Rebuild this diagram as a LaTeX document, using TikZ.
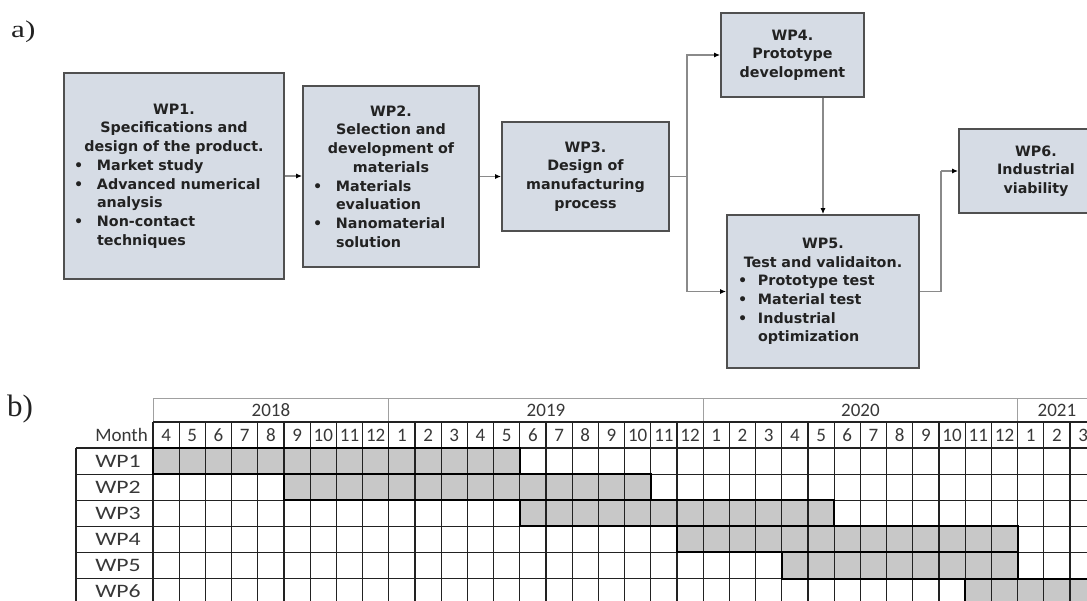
\documentclass[tikz,border=0pt]{standalone}
\usepackage{fontspec}
\newfontfamily\boxfont{DejaVu Sans}
\newfontfamily\tabfont{Carlito}
\newfontfamily\labfont{Liberation Serif}
\usetikzlibrary{arrows.meta,calc}
\definecolor{boxfill}{HTML}{D6DCE5}
\definecolor{boxline}{HTML}{505050}
\definecolor{connline}{HTML}{8A8A8A}
\definecolor{barfill}{HTML}{C8C8C8}
\definecolor{gridline}{HTML}{222222}
\definecolor{yearline}{HTML}{A0A0A0}
\definecolor{txt}{HTML}{222222}
\newlength\bulind
\setlength\bulind{23pt}
\newcommand\wpitem[1]{\par\hangindent=\bulind\hangafter=1\noindent\makebox[\bulind][l]{\textbullet}#1\par}
\tikzset{
  wpbox/.style={draw=boxline, line width=1.7pt, fill=boxfill, inner sep=0pt,
    font=\boxfont\bfseries\fontsize{14.3}{18.7}\selectfont, text=txt},
  conn/.style={draw=connline, line width=1.2pt, -{Latex[length=6pt,width=5pt,color=black]}},
  plainconn/.style={draw=connline, line width=1.2pt},
  tabtxt/.style={font=\tabfont\fontsize{19}{20}\selectfont, text=txt!90!white, inner sep=0pt},
  gridl/.style={draw=gridline, line width=1.2pt},
  yearl/.style={draw=yearline, line width=1pt},
  barbox/.style={draw=black, line width=2pt},
  panel/.style={font=\labfont, inner sep=0pt, anchor=base west, text=txt}
}
\begin{document}
\begin{tikzpicture}[x=1pt,y=-1pt]
\useasboundingbox (0,0) rectangle (1087,600);
\clip (0,0) rectangle (1087,600);
\fill[white] (0,0) rectangle (1087,600);

% panel labels
\node[panel] (la) at (11,37) {\fontsize{24}{26}\selectfont\scalebox{1.3}[1]{a)}};
\node[panel] (lb) at (7,416) {\fontsize{31}{33}\selectfont b)};

% work package boxes
\node[wpbox, minimum width=220pt, minimum height=206pt, text width=200pt] (wp1) at (174,176) {%
  {\centering WP1.\\Specifications and\\design of the product.\par}
  \raggedright
  \wpitem{Market study}
  \wpitem{Advanced numerical\newline analysis}
  \wpitem{Non-contact\newline techniques}};
\node[wpbox, minimum width=176pt, minimum height=181pt, text width=156pt] (wp2) at (391,176.5) {%
  {\centering WP2.\\Selection and\\development of\\materials\par}
  \raggedright
  \wpitem{Materials\newline evaluation}
  \wpitem{Nanomaterial\newline solution}};
\node[wpbox, minimum width=167pt, minimum height=109pt, align=center] (wp3) at (585.5,176.5) {WP3.\\Design of\\manufacturing\\process};
\node[wpbox, minimum width=143pt, minimum height=84pt, align=center] (wp4) at (792.5,55) {WP4.\\Prototype\\development};
\begingroup
\setlength\bulind{20pt}
\node[wpbox, minimum width=192pt, minimum height=153pt, text width=170pt] (wp5) at (823,291.5) {%
  {\centering WP5.\\Test and validaiton.\par}
  \raggedright
  \wpitem{Prototype test}
  \wpitem{Material test}
  \wpitem{Industrial\newline optimization}};
\endgroup
\node[wpbox, minimum width=154pt, minimum height=84pt, align=center] (wp6) at (1036,171) {WP6.\\Industrial\\viability};

% connectors
\coordinate (j1) at (687,176.5);
\coordinate (j2) at (941,171);
\draw[conn] (wp1.east) -- (wp1.east -| wp2.west);
\draw[conn] (wp2.east) -- (wp2.east -| wp3.west);
\draw[plainconn] (wp3.east) -- (j1);
\draw[conn] (j1) |- (wp4.west);
\draw[conn] (j1) |- (wp5.west);
\draw[conn] (wp5.north |- wp4.south) -- (wp5.north);
\draw[plainconn] (wp5.east) -| (j2);
\draw[conn] (j2) -- (wp6.west);

% ---------- Gantt table ----------
\def\cw{26.2}
\def\rh{26.1}
% bar fills
\foreach \a/\b/\r in {0/14/0,5/19/1,14/26/2,20/33/3,24/33/4,31/36/5}
  \fill[barfill] ({153+\a*\cw},{448+\r*\rh}) rectangle ({153+\b*\cw},{448+(\r+1)*\rh});
% year header
\draw[yearl] (153,398) -- (1100,398);
\foreach \k in {0,9,21,33}
  \draw[yearl] ({153+\k*\cw},398) -- ({153+\k*\cw},422);
\node[tabtxt] (y2018) at ({153+4.5*\cw},410) {2018};
\node[tabtxt] (y2019) at ({153+15*\cw},410) {2019};
\node[tabtxt] (y2020) at ({153+27*\cw},410) {2020};
\node[tabtxt] (y2021) at ({153+34.5*\cw},410) {2021};
% grid
\draw[gridl] (153,422) -- (1100,422);
\foreach \i in {0,...,6}
  \draw[gridl] (76,{448+\i*\rh}) -- (1100,{448+\i*\rh});
\draw[gridl] (76,448) -- (76,610);
\foreach \k in {0,...,36}
  \draw[gridl] ({153+\k*\cw},422) -- ({153+\k*\cw},610);
% bar borders
\foreach \a/\b/\r in {0/14/0,5/19/1,14/26/2,20/33/3,24/33/4,31/36/5}
  \draw[barbox] ({153+\a*\cw},{448+\r*\rh}) rectangle ({153+\b*\cw},{448+(\r+1)*\rh});
% month numbers
\node[tabtxt, anchor=east] (month) at (148,435) {Month};
\foreach \m [count=\k from 0] in {4,5,6,7,8,9,10,11,12,1,2,3,4,5,6,7,8,9,10,11,12,1,2,3,4,5,6,7,8,9,10,11,12,1,2,3}
  \node[tabtxt] (mon\k) at ({153+(\k+0.5)*\cw},435) {\m};
% row labels
\foreach \r in {1,...,6}
  \node[tabtxt] (row\r) at (118,{448+(\r-0.5)*\rh}) {\scalebox{1.25}[1]{WP\r}};
\end{tikzpicture}
\end{document}
